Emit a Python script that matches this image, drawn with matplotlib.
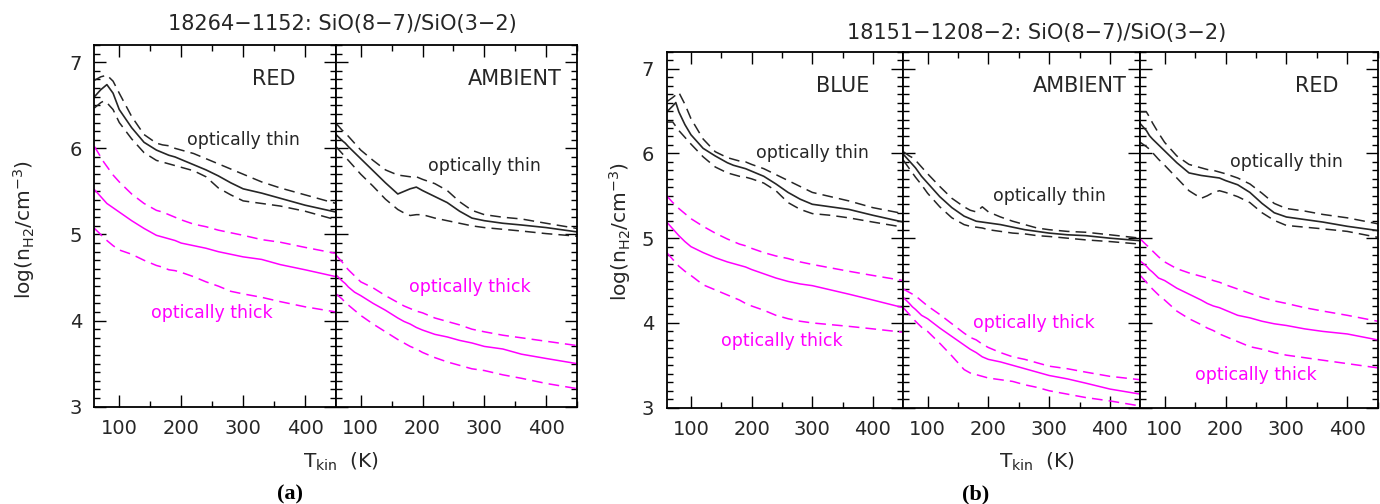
import numpy as np
import matplotlib.pyplot as plt
from matplotlib.ticker import MultipleLocator

plt.rcParams['font.family'] = ['DejaVu Sans']
plt.rcParams['mathtext.default'] = 'regular'

# kinetic temperature grid (K)
T = [60, 70, 75, 80, 90, 100, 120, 140, 160, 170, 180, 190, 200, 220, 240, 260, 280, 300, 330, 360, 400, 450]

# (a) 18264-1152, RED
a_red_thin    = [6.60, 6.68, 6.71, 6.74, 6.64, 6.45, 6.24, 6.07, 5.98, 5.95, 5.92, 5.90, 5.87, 5.81, 5.75, 5.68, 5.60, 5.53, 5.48, 5.42, 5.34, 5.26]
a_red_thin_hi = [6.79, 6.83, 6.84, 6.85, 6.78, 6.64, 6.37, 6.16, 6.06, 6.04, 6.03, 6.00, 5.98, 5.94, 5.88, 5.82, 5.76, 5.70, 5.61, 5.54, 5.46, 5.36]
a_red_thin_lo = [6.47, 6.53, 6.55, 6.53, 6.45, 6.30, 6.11, 5.95, 5.86, 5.84, 5.82, 5.80, 5.78, 5.74, 5.67, 5.54, 5.46, 5.39, 5.36, 5.33, 5.27, 5.17]
a_red_thick    = [5.52, 5.44, 5.40, 5.36, 5.31, 5.26, 5.16, 5.07, 4.99, 4.97, 4.95, 4.93, 4.90, 4.87, 4.84, 4.80, 4.77, 4.74, 4.71, 4.65, 4.59, 4.51]
a_red_thick_hi = [6.02, 5.90, 5.84, 5.79, 5.69, 5.61, 5.47, 5.36, 5.28, 5.26, 5.23, 5.20, 5.17, 5.12, 5.09, 5.05, 5.02, 4.99, 4.94, 4.91, 4.85, 4.78]
a_red_thick_lo = [5.07, 5.00, 4.96, 4.93, 4.87, 4.82, 4.77, 4.70, 4.64, 4.62, 4.59, 4.58, 4.56, 4.51, 4.45, 4.40, 4.34, 4.31, 4.27, 4.22, 4.16, 4.10]

# (a) 18264-1152, AMBIENT
a_amb_thin    = [6.16, 6.09, 6.06, 6.02, 5.95, 5.88, 5.74, 5.60, 5.47, 5.50, 5.53, 5.55, 5.51, 5.44, 5.37, 5.27, 5.19, 5.16, 5.13, 5.11, 5.08, 5.03]
a_amb_thin_hi = [6.29, 6.21, 6.18, 6.14, 6.06, 5.98, 5.86, 5.75, 5.69, 5.68, 5.67, 5.67, 5.64, 5.59, 5.51, 5.38, 5.28, 5.23, 5.20, 5.18, 5.13, 5.07]
a_amb_thin_lo = [6.02, 5.94, 5.90, 5.86, 5.78, 5.70, 5.56, 5.41, 5.29, 5.25, 5.22, 5.23, 5.23, 5.19, 5.16, 5.13, 5.10, 5.08, 5.06, 5.04, 5.01, 4.98]
a_amb_thick    = [4.53, 4.46, 4.43, 4.39, 4.33, 4.29, 4.20, 4.12, 4.03, 3.99, 3.96, 3.92, 3.89, 3.84, 3.81, 3.77, 3.74, 3.70, 3.67, 3.61, 3.56, 3.50]
a_amb_thick_hi = [4.76, 4.68, 4.63, 4.59, 4.52, 4.45, 4.38, 4.29, 4.21, 4.17, 4.14, 4.11, 4.09, 4.03, 3.99, 3.95, 3.90, 3.87, 3.83, 3.80, 3.76, 3.71]
a_amb_thick_lo = [4.31, 4.25, 4.21, 4.18, 4.12, 4.06, 3.96, 3.87, 3.78, 3.74, 3.70, 3.67, 3.63, 3.57, 3.52, 3.48, 3.44, 3.42, 3.37, 3.33, 3.27, 3.21]

# (b) 18151-1208-2, BLUE
b_blue_thin    = [6.49, 6.56, 6.60, 6.49, 6.34, 6.22, 6.06, 5.97, 5.89, 5.86, 5.84, 5.82, 5.79, 5.73, 5.64, 5.54, 5.46, 5.40, 5.37, 5.34, 5.27, 5.19]
b_blue_thin_hi = [6.61, 6.66, 6.69, 6.72, 6.58, 6.41, 6.17, 6.02, 5.95, 5.93, 5.91, 5.90, 5.87, 5.82, 5.75, 5.68, 5.61, 5.54, 5.49, 5.44, 5.36, 5.29]
b_blue_thin_lo = [6.37, 6.37, 6.32, 6.27, 6.19, 6.11, 5.96, 5.84, 5.77, 5.75, 5.73, 5.72, 5.70, 5.65, 5.56, 5.42, 5.34, 5.29, 5.27, 5.24, 5.19, 5.13]
b_blue_thick    = [5.19, 5.11, 5.07, 5.03, 4.96, 4.90, 4.83, 4.77, 4.72, 4.70, 4.68, 4.66, 4.63, 4.58, 4.53, 4.49, 4.46, 4.44, 4.39, 4.34, 4.27, 4.18]
b_blue_thick_hi = [5.50, 5.42, 5.39, 5.35, 5.29, 5.23, 5.14, 5.06, 4.99, 4.96, 4.93, 4.91, 4.88, 4.83, 4.79, 4.76, 4.72, 4.69, 4.65, 4.61, 4.56, 4.50]
b_blue_thick_lo = [4.83, 4.75, 4.71, 4.67, 4.61, 4.56, 4.45, 4.39, 4.33, 4.30, 4.27, 4.23, 4.20, 4.15, 4.09, 4.05, 4.02, 4.00, 3.98, 3.96, 3.93, 3.89]

# (b) 18151-1208-2, AMBIENT
b_amb_thin    = [5.99, 5.91, 5.87, 5.83, 5.73, 5.65, 5.49, 5.36, 5.26, 5.23, 5.20, 5.19, 5.18, 5.16, 5.13, 5.10, 5.08, 5.06, 5.04, 5.03, 5.00, 4.97]
b_amb_thin_hi = [6.02, 5.97, 5.95, 5.92, 5.84, 5.76, 5.61, 5.47, 5.37, 5.33, 5.31, 5.37, 5.31, 5.25, 5.20, 5.16, 5.12, 5.10, 5.08, 5.07, 5.04, 5.00]
b_amb_thin_lo = [5.92, 5.82, 5.77, 5.72, 5.63, 5.53, 5.37, 5.24, 5.16, 5.14, 5.13, 5.12, 5.10, 5.08, 5.06, 5.05, 5.03, 5.02, 5.00, 4.98, 4.96, 4.93]
b_amb_thick    = [4.30, 4.23, 4.19, 4.16, 4.09, 4.05, 3.94, 3.84, 3.74, 3.69, 3.65, 3.60, 3.57, 3.54, 3.50, 3.46, 3.42, 3.38, 3.34, 3.29, 3.22, 3.16]
b_amb_thick_hi = [4.40, 4.36, 4.34, 4.32, 4.26, 4.20, 4.10, 3.99, 3.88, 3.83, 3.80, 3.75, 3.71, 3.65, 3.60, 3.57, 3.53, 3.49, 3.46, 3.42, 3.37, 3.33]
b_amb_thick_lo = [4.18, 4.10, 4.06, 4.02, 3.95, 3.90, 3.76, 3.61, 3.45, 3.41, 3.39, 3.37, 3.35, 3.33, 3.31, 3.27, 3.24, 3.20, 3.16, 3.12, 3.08, 3.02]

# (b) 18151-1208-2, RED
b_red_thin    = [6.35, 6.27, 6.21, 6.17, 6.10, 6.03, 5.89, 5.77, 5.74, 5.73, 5.72, 5.71, 5.68, 5.63, 5.54, 5.41, 5.30, 5.25, 5.22, 5.19, 5.14, 5.09]
b_red_thin_hi = [6.49, 6.49, 6.43, 6.36, 6.24, 6.13, 5.97, 5.87, 5.83, 5.81, 5.80, 5.78, 5.76, 5.71, 5.64, 5.53, 5.41, 5.35, 5.32, 5.28, 5.24, 5.17]
b_red_thin_lo = [6.13, 6.08, 6.05, 6.01, 5.93, 5.86, 5.71, 5.56, 5.47, 5.50, 5.54, 5.56, 5.54, 5.49, 5.42, 5.30, 5.21, 5.15, 5.13, 5.11, 5.08, 5.01]
b_red_thick    = [4.73, 4.67, 4.63, 4.60, 4.53, 4.50, 4.41, 4.34, 4.27, 4.23, 4.20, 4.18, 4.15, 4.09, 4.06, 4.02, 3.99, 3.97, 3.93, 3.90, 3.87, 3.80]
b_red_thick_hi = [4.99, 4.92, 4.89, 4.85, 4.78, 4.72, 4.64, 4.59, 4.55, 4.53, 4.50, 4.48, 4.45, 4.40, 4.35, 4.30, 4.26, 4.23, 4.18, 4.14, 4.09, 4.02]
b_red_thick_lo = [4.56, 4.48, 4.44, 4.40, 4.33, 4.27, 4.14, 4.05, 3.98, 3.94, 3.91, 3.87, 3.84, 3.78, 3.72, 3.69, 3.65, 3.62, 3.59, 3.56, 3.52, 3.47]

# label positions (data coords) for each panel
panel_names = ['RED', 'AMBIENT', 'BLUE', 'AMBIENT', 'RED']
thin_pos = [(300, 6.10), (300, 5.79), (300, 6.00), (300, 5.50), (300, 5.90)]
thick_pos = [(250, 4.09), (276, 4.39), (250, 3.79), (275, 4.00), (250, 3.39)]

W, H = 1380, 504
INK = '#262626'
MAG = '#ff00ff'
dash = (0, (7, 4))

fig = plt.figure(figsize=(W / 100, H / 100), dpi=100)


def add_panel(x0, x1, y0, y1):
    ax = fig.add_axes([x0 / W, 1 - y1 / H, (x1 - x0) / W, (y1 - y0) / H])
    ax.set_xlim(60, 450)
    ax.set_ylim(3, 7.2)
    ax.xaxis.set_major_locator(MultipleLocator(100))
    ax.xaxis.set_minor_locator(MultipleLocator(50))
    ax.yaxis.set_major_locator(MultipleLocator(1))
    ax.yaxis.set_minor_locator(MultipleLocator(0.1))
    ax.tick_params(which='both', direction='in', top=True, right=True,
                   labelsize=14, labelcolor=INK, color='k', width=1.0)
    ax.tick_params(which='major', length=8.5, pad=9)
    ax.tick_params(which='minor', length=4.5)
    for s in ax.spines.values():
        s.set_linewidth(1.3)
    return ax


def draw(ax, curves, idx):
    thin, thin_hi, thin_lo, thick, thick_hi, thick_lo = curves
    ax.plot(T, thin, color=INK, lw=1.2)
    ax.plot(T, thin_hi, color=INK, lw=1.1, ls=dash)
    ax.plot(T, thin_lo, color=INK, lw=1.1, ls=dash)
    ax.plot(T, thick, color=MAG, lw=1.1)
    ax.plot(T, thick_hi, color=MAG, lw=1.1, ls=dash)
    ax.plot(T, thick_lo, color=MAG, lw=1.1, ls=dash)
    ax.text(350, 6.8, panel_names[idx], ha='center', va='center', fontsize=15, color=INK)
    ax.text(*thin_pos[idx], 'optically thin', ha='center', va='center', fontsize=12.5, color=INK)
    ax.text(*thick_pos[idx], 'optically thick', ha='center', va='center', fontsize=12.5, color=MAG)


panels = [
    (a_red_thin, a_red_thin_hi, a_red_thin_lo, a_red_thick, a_red_thick_hi, a_red_thick_lo),
    (a_amb_thin, a_amb_thin_hi, a_amb_thin_lo, a_amb_thick, a_amb_thick_hi, a_amb_thick_lo),
    (b_blue_thin, b_blue_thin_hi, b_blue_thin_lo, b_blue_thick, b_blue_thick_hi, b_blue_thick_lo),
    (b_amb_thin, b_amb_thin_hi, b_amb_thin_lo, b_amb_thick, b_amb_thick_hi, b_amb_thick_lo),
    (b_red_thin, b_red_thin_hi, b_red_thin_lo, b_red_thick, b_red_thick_hi, b_red_thick_lo),
]

# pixel boxes of the panels
boxes = [(94.5, 336, 45, 406.7), (336, 577, 45, 406.7),
         (666.7, 903.3, 51.7, 407.7), (903.3, 1140.3, 51.7, 407.7), (1140.3, 1377.7, 51.7, 407.7)]

for i, (box, curves) in enumerate(zip(boxes, panels)):
    ax = add_panel(*box)
    draw(ax, curves, i)
    if i not in (0, 2):
        ax.tick_params(labelleft=False)

ylab = 'log(n$_{H2}$/cm$^{-3}$)'
fig.text(24 / W, 1 - 230 / H, ylab, rotation=90, ha='center', va='center', fontsize=14.5, color=INK)
fig.text(620 / W, 1 - 232 / H, ylab, rotation=90, ha='center', va='center', fontsize=14.5, color=INK)

xlab = 'T$_{kin}$  (K)'
fig.text(341 / W, 1 - 462 / H, xlab, ha='center', va='center', fontsize=14.5, color=INK)
fig.text(1037 / W, 1 - 462 / H, xlab, ha='center', va='center', fontsize=14.5, color=INK)

fig.text(342 / W, 1 - 24 / H, '18264\u22121152: SiO(8\u22127)/SiO(3\u22122)',
         ha='center', va='center', fontsize=15, color=INK)
fig.text(1037 / W, 1 - 33 / H, '18151\u22121208\u22122: SiO(8\u22127)/SiO(3\u22122)',
         ha='center', va='center', fontsize=15, color=INK)

fig.text(290 / W, 1 - 494 / H, '(a)', ha='center', va='center', fontsize=16,
         family='Liberation Serif', weight='bold')
fig.text(976 / W, 1 - 494 / H, '(b)', ha='center', va='center', fontsize=16,
         family='Liberation Serif', weight='bold')

fig.savefig('out.png', dpi=100)
